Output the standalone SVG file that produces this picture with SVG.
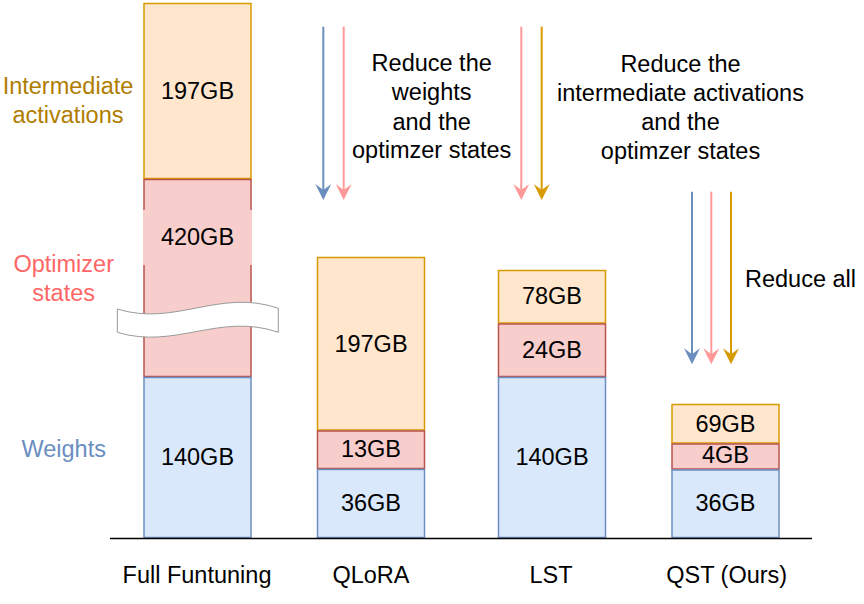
<svg xmlns="http://www.w3.org/2000/svg" width="864" height="604" viewBox="0 0 864 604">
<defs>
<style>
text{font-family:"Liberation Sans",Arial,sans-serif;font-size:23.5px;text-anchor:middle;fill:#000}
.o{fill:#ffe6cc;stroke:#d79b00;stroke-width:1.5}
.r{fill:#f8cecc;stroke:#b85450;stroke-width:1.5}
.b{fill:#dae8fc;stroke:#6c8ebf;stroke-width:1.5}
.ab{stroke:#6c8ebf;stroke-width:2;fill:none}
.ap{stroke:#ff9999;stroke-width:2;fill:none}
.ao{stroke:#d79b00;stroke-width:2;fill:none}
</style>
<marker id="mb" viewBox="-16 -8 17 16" refX="-8" refY="0" markerWidth="17" markerHeight="16" markerUnits="userSpaceOnUse" orient="auto">
<path d="M-16,-8 L0,0 L-16,8 L-10,0 Z" fill="#6c8ebf"/>
</marker>
<marker id="mp" viewBox="-16 -8 17 16" refX="-8" refY="0" markerWidth="17" markerHeight="16" markerUnits="userSpaceOnUse" orient="auto">
<path d="M-16,-8 L0,0 L-16,8 L-10,0 Z" fill="#ff9999"/>
</marker>
<marker id="mo" viewBox="-16 -8 17 16" refX="-8" refY="0" markerWidth="17" markerHeight="16" markerUnits="userSpaceOnUse" orient="auto">
<path d="M-16,-8 L0,0 L-16,8 L-10,0 Z" fill="#d79b00"/>
</marker>
</defs>
<rect width="864" height="604" fill="#fff"/>

<g id="legend">
<text x="68" y="94.3" style="fill:#b07d00">Intermediate</text>
<text x="68" y="123.3" style="fill:#b07d00">activations</text>
<text x="63.7" y="272.3" style="fill:#ff6666">Optimizer</text>
<text x="63.7" y="300.7" style="fill:#ff6666">states</text>
<text x="63.7" y="457.3" style="fill:#6c8ebf">Weights</text>
</g>

<g id="bar-full">
<rect class="o" x="144" y="3.5" width="107" height="175"/>
<rect class="r" x="144" y="179.5" width="107" height="197"/>
<rect x="143" y="210" width="109" height="55" fill="#f8cecc"/>
<rect class="b" x="144" y="377.5" width="107" height="160"/>
<text x="197.5" y="99.3">197GB</text>
<text x="197.5" y="245">420GB</text>
<text x="197.5" y="465">140GB</text>
<path d="M117.3,309 C175,327 220,288 278.3,308.3 L278.3,332.3 C220,312 175,350 117.3,332.3 Z" fill="#fff" stroke="#9a9a9a" stroke-width="1"/>
</g>

<g id="bar-qlora">
<rect class="o" x="317.5" y="257.5" width="107" height="172.5"/>
<rect class="r" x="317.5" y="431" width="107" height="37.5"/>
<rect class="b" x="317.5" y="469.5" width="107" height="68"/>
<text x="371" y="351.7">197GB</text>
<text x="371" y="456.7">13GB</text>
<text x="371" y="511">36GB</text>
</g>

<g id="bar-lst">
<rect class="o" x="498.5" y="270.5" width="107" height="52.5"/>
<rect class="r" x="498.5" y="324" width="107" height="52.5"/>
<rect class="b" x="498.5" y="377.5" width="107" height="160"/>
<text x="552" y="304.3">78GB</text>
<text x="552" y="358.3">24GB</text>
<text x="552" y="465">140GB</text>
</g>

<g id="bar-qst">
<rect class="o" x="672" y="404.5" width="107" height="38.5"/>
<rect class="r" x="672" y="444" width="107" height="25"/>
<rect class="b" x="672" y="470" width="107" height="67.5"/>
<text x="725.5" y="431.7">69GB</text>
<text x="725.5" y="463.3">4GB</text>
<text x="725.5" y="511">36GB</text>
</g>

<g id="axis">
<line x1="110" y1="538.5" x2="812" y2="538.5" stroke="#000" stroke-width="1.5"/>
<text x="197" y="582.5">Full Funtuning</text>
<text x="371" y="582.5">QLoRA</text>
<text x="551" y="583">LST</text>
<text x="726.7" y="583">QST (Ours)</text>
</g>

<g id="connectors">
<line class="ab" x1="323.3" y1="26.7" x2="323.3" y2="192" marker-end="url(#mb)"/>
<line class="ap" x1="343.7" y1="26.7" x2="343.7" y2="192" marker-end="url(#mp)"/>
<line class="ap" x1="521.3" y1="26.7" x2="521.3" y2="192" marker-end="url(#mp)"/>
<line class="ao" x1="541.7" y1="26.7" x2="541.7" y2="192" marker-end="url(#mo)"/>
<line class="ab" x1="692" y1="191.7" x2="692" y2="356.3" marker-end="url(#mb)"/>
<line class="ap" x1="711.3" y1="191.7" x2="711.3" y2="356.3" marker-end="url(#mp)"/>
<line class="ao" x1="731" y1="191.7" x2="731" y2="356.3" marker-end="url(#mo)"/>
</g>

<g id="label-qlora">
<text x="431.7" y="71">Reduce the</text>
<text x="431.7" y="100.3">weights</text>
<text x="431.7" y="129.5">and the</text>
<text x="431.7" y="158.3">optimzer states</text>
</g>
<g id="label-lst">
<text x="680.5" y="71.5">Reduce the</text>
<text x="680.5" y="101">intermediate activations</text>
<text x="680.5" y="130">and the</text>
<text x="680.5" y="158.5">optimzer states</text>
</g>
<g id="label-qst">
<text x="745" y="287.3" style="text-anchor:start">Reduce all</text>
</g>
</svg>
